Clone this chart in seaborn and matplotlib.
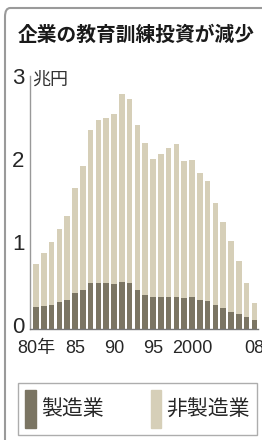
import numpy as np
import pandas as pd
import matplotlib
matplotlib.use("Agg")
import matplotlib.pyplot as plt
import matplotlib.patches as mpatches
from matplotlib.transforms import ScaledTranslation
import seaborn as sns

# data (trillion yen)
years = [str(y) for y in range(1980, 2009)]
manufacturing = [0.27, 0.28, 0.29, 0.33, 0.35, 0.44, 0.47, 0.55, 0.55, 0.55,
                 0.54, 0.57, 0.55, 0.47, 0.41, 0.39, 0.39, 0.39, 0.38, 0.37,
                 0.38, 0.35, 0.34, 0.29, 0.25, 0.21, 0.18, 0.14, 0.11]
non_manufacturing = [0.51, 0.64, 0.76, 0.87, 1.01, 1.26, 1.49, 1.85, 1.97, 1.99,
                     2.05, 2.26, 2.22, 1.99, 1.83, 1.66, 1.72, 1.79, 1.85, 1.65,
                     1.66, 1.53, 1.44, 1.23, 1.04, 0.85, 0.64, 0.41, 0.20]
tick_pos = [0, 5, 10, 15, 20, 28]
tick_labels = ["80年", "85", "90", "95", "2000", "08"]

title = "企業の教育訓練投資が減少"
unit = "兆円"
legend_labels = ["製造業", "非製造業"]

dark = "#7b7563"
light = "#d6cfb8"

df = pd.DataFrame({"year": years,
                   "manu": manufacturing,
                   "total": np.array(manufacturing) + np.array(non_manufacturing)})

sns.set_style("white")
plt.rcParams["font.family"] = ["Noto Sans CJK JP", "DejaVu Sans"]
num_font = ["Liberation Sans", "Noto Sans CJK JP"]

fig = plt.figure(figsize=(2.62, 4.4), dpi=100)
ax = fig.add_axes([30 / 262, 111 / 440, 228 / 262, 253 / 440])

sns.barplot(data=df, x="year", y="total", color=light, width=0.72,
            saturation=1, ax=ax, edgecolor="none")
sns.barplot(data=df, x="year", y="manu", color=dark, width=0.72,
            saturation=1, ax=ax, edgecolor="none")

ax.set_xlim(-0.77, 28.46)
ax.set_ylim(0, 3.05)
ax.set_xlabel("")
ax.set_ylabel("")
ax.set_yticks([0, 1, 2, 3])
ax.set_yticklabels(["0", "1", "2", "3"], family=num_font, fontsize=16)
ax.set_xticks(tick_pos)
ax.set_xticklabels(tick_labels, family=num_font, fontsize=13)
ax.tick_params(axis="y", direction="in", length=3, width=0.8, color="#888888", pad=4)
ax.tick_params(axis="x", direction="out", length=5, width=0.8, color="#888888", pad=3)
for lab in ax.get_yticklabels():
    lab.set_transform(lab.get_transform() + ScaledTranslation(0, 0.045, fig.dpi_scale_trans))
for s in ["top", "right"]:
    ax.spines[s].set_visible(False)
ax.spines["left"].set_color("#999999")
ax.spines["left"].set_linewidth(1.0)
ax.spines["bottom"].set_color("#777777")
ax.spines["bottom"].set_linewidth(1.0)

ax.text(0.01, 3.0, unit, transform=ax.get_yaxis_transform(), fontsize=13,
        va="center", ha="left", color="#333333")

fig.text(136 / 262, 1 - 35 / 440, title, fontsize=14.2, fontweight="bold",
         ha="center", va="center", color="#1a1a1a")

# outer frame with rounded corner
frame = mpatches.FancyBboxPatch((5 / 262, -0.1), 1.2, 1.1 - 8 / 440,
                                boxstyle="round,pad=0,rounding_size=0.02",
                                transform=fig.transFigure, fill=False,
                                edgecolor="#9a9a9a", lw=1.5)
fig.patches.append(frame)

handles = [mpatches.Patch(color=dark, label=legend_labels[0]),
           mpatches.Patch(color=light, label=legend_labels[1])]
leg = fig.legend(handles=handles, ncol=2, loc="lower left",
                 bbox_to_anchor=(18 / 262, 5 / 440, 239 / 262, 55 / 440),
                 mode="expand", fontsize=15, handlelength=0.5, handleheight=2.4,
                 handletextpad=0.25, columnspacing=1.2, borderpad=0.35,
                 borderaxespad=0, fancybox=False, frameon=True, edgecolor="#999999")
leg.get_frame().set_linewidth(1.0)

fig.savefig("out.png", dpi=100)
